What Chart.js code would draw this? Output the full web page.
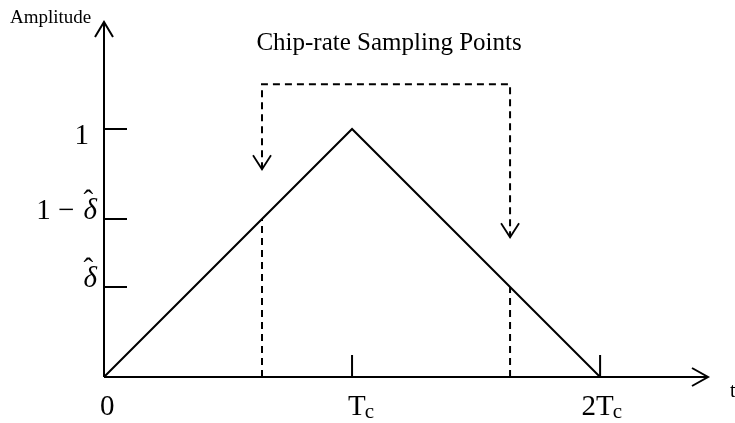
<!DOCTYPE html>
<html>
<head>
<meta charset="utf-8">
<script src="https://cdn.jsdelivr.net/npm/chart.js@4"></script>
<style>
  html, body { margin: 0; padding: 0; background: #fff; }
  #chart { display: block; }
</style>
</head>
<body>
<canvas id="chart" width="735" height="423"></canvas>
<script>
// chip pulse autocorrelation, time in units of Tc
var chipTimes = [0, 1, 2];
var chipAmplitude = [0, 1, 0];

// sampling offset and the two chip-rate samples
var deltaHat = 0.363;
var sampleTimes = [1 - deltaHat, 2 - deltaHat];
var sampleAmplitude = [1 - deltaHat, deltaHat];

var yTickValues = [1, 1 - deltaHat, deltaHat];
var yTickLabels = ['1', '1 \u2212 \u03b4\u0302', '\u03b4\u0302'];
var xTickValues = [0, 1, 2];
var xTickLabels = ['0', 'Tc', '2Tc'];

var bracketLevel = 1.18;   // height of the dashed bracket
var arrowGap = 0.2;        // arrow tip sits this far above the sample

var SERIF = '"Liberation Serif", "Times New Roman", serif';

function pts(xs, ys) {
  return xs.map(function(x, i) { return { x: x, y: ys[i] } });
}

var lineStyle = {
  borderColor: '#000',
  borderWidth: 2,
  showLine: true,
  pointRadius: 0,
  tension: 0,
  fill: false
};

var datasets = [Object.assign({ data: pts(chipTimes, chipAmplitude) }, lineStyle)];

// dashed stems from the axis up to the pulse
sampleTimes.forEach(function(t, i) {
  datasets.push(Object.assign({
    data: pts([t, t], [0, sampleAmplitude[i]]),
    borderDash: [7, 5]
  }, lineStyle));
});

// dashed bracket joining the two sampling arrows
datasets.push(Object.assign({
  data: pts(
    [sampleTimes[0], sampleTimes[0], sampleTimes[1], sampleTimes[1]],
    [sampleAmplitude[0] + arrowGap, bracketLevel, bracketLevel, sampleAmplitude[1] + arrowGap]
  ),
  borderDash: [7, 5]
}, lineStyle));

function openArrow(ctx, x, y, dir, len, half) {
  ctx.beginPath();
  if (dir === 'right') {
    ctx.moveTo(x - len, y - half); ctx.lineTo(x, y); ctx.lineTo(x - len, y + half);
  } else if (dir === 'up') {
    ctx.moveTo(x - half, y + len); ctx.lineTo(x, y); ctx.lineTo(x + half, y + len);
  } else {
    ctx.moveTo(x - half, y - len); ctx.lineTo(x, y); ctx.lineTo(x + half, y - len);
  }
  ctx.stroke();
}

// draws "δ̂": italic delta with a circumflex above it, right edge at x
function drawDeltaHat(ctx, xRight, baseline) {
  ctx.font = 'italic 29px ' + SERIF;
  ctx.textAlign = 'right';
  ctx.fillText('\u03b4', xRight, baseline);
  var w = ctx.measureText('\u03b4').width;
  ctx.font = '29px ' + SERIF;
  ctx.textAlign = 'center';
  ctx.fillText('\u02c6', xRight - w / 2 - 2, baseline - 9);
  return w;
}

var axesPlugin = {
  id: 'axesPlugin',
  afterDatasetsDraw: function(chart) {
    var ctx = chart.ctx;
    var xs = chart.scales.x, ys = chart.scales.y;
    var x0 = xs.getPixelForValue(0), y0 = ys.getPixelForValue(0);
    var xEnd = xs.getPixelForValue(xs.max), yEnd = ys.getPixelForValue(ys.max);

    ctx.save();
    ctx.strokeStyle = '#000';
    ctx.fillStyle = '#000';
    ctx.lineWidth = 2;
    ctx.setLineDash([]);

    // axes with open arrowheads
    ctx.beginPath();
    ctx.moveTo(x0, y0); ctx.lineTo(xEnd, y0);
    ctx.moveTo(x0, y0); ctx.lineTo(x0, yEnd);
    ctx.stroke();
    openArrow(ctx, xEnd, y0, 'right', 16, 9);
    openArrow(ctx, x0, yEnd, 'up', 15, 9);

    // sampling arrowheads
    ctx.lineWidth = 1.8;
    sampleTimes.forEach(function(t, i) {
      openArrow(ctx, xs.getPixelForValue(t), ys.getPixelForValue(sampleAmplitude[i] + arrowGap), 'down', 14, 9);
    });
    ctx.lineWidth = 2;

    // y ticks point into the plot
    ctx.beginPath();
    yTickValues.forEach(function(v) {
      var py = ys.getPixelForValue(v);
      ctx.moveTo(x0, py); ctx.lineTo(x0 + 23, py);
    });
    xTickValues.forEach(function(v) {
      if (v === 0) return;
      var px = xs.getPixelForValue(v);
      ctx.moveTo(px, y0); ctx.lineTo(px, y0 - 22);
    });
    ctx.stroke();

    // y tick labels
    ctx.textBaseline = 'alphabetic';
    yTickValues.forEach(function(v, i) {
      var py = ys.getPixelForValue(v);
      var label = yTickLabels[i];
      if (label.indexOf('\u03b4') === -1) {
        ctx.font = '29px ' + SERIF;
        ctx.textAlign = 'right';
        ctx.fillText(label, x0 - 15, py + 15);
        return;
      }
      var w = drawDeltaHat(ctx, x0 - 7, py);
      var prefix = label.slice(0, label.indexOf('\u03b4'));
      if (prefix) {
        ctx.font = '29px ' + SERIF;
        ctx.textAlign = 'right';
        ctx.fillText(prefix, x0 - 7 - w - 2, py);
      }
    });

    // x tick labels, "T" with subscript "c"
    xTickValues.forEach(function(v, i) {
      var px = xs.getPixelForValue(v);
      var label = xTickLabels[i];
      var base = y0 + 38;
      ctx.textAlign = 'left';
      ctx.font = '29px ' + SERIF;
      var tPos = label.indexOf('T');
      if (tPos === -1) {
        ctx.fillText(label, px - 4, base);
        return;
      }
      var prefix = label.slice(0, tPos);
      var pw = ctx.measureText(prefix).width;
      ctx.fillText(prefix + 'T', px - 4 - pw, base);
      var tw = ctx.measureText('T').width;
      ctx.font = '21px ' + SERIF;
      ctx.fillText(label.slice(tPos + 1), px - 4 + tw - 1, base + 3);
    });

    // axis names and caption
    ctx.font = '19px ' + SERIF;
    ctx.textAlign = 'left';
    ctx.fillText('Amplitude', 10, 23);
    ctx.font = '20px ' + SERIF;
    ctx.fillText('t', 730, 397);

    ctx.font = '25px ' + SERIF;
    ctx.textAlign = 'center';
    var mid = (xs.getPixelForValue(sampleTimes[0]) + xs.getPixelForValue(sampleTimes[1])) / 2;
    ctx.fillText('Chip-rate Sampling Points', mid + 3, 50);

    ctx.restore();
  }
};

var chart = new Chart(document.getElementById('chart').getContext('2d'), {
  type: 'scatter',
  data: { datasets: datasets },
  options: {
    responsive: false,
    animation: false,
    layout: { padding: { left: 104, right: 27, top: 22, bottom: 46 } },
    plugins: { legend: { display: false }, tooltip: { enabled: false } },
    scales: {
      x: { type: 'linear', min: 0, max: 2.435, display: false },
      y: { type: 'linear', min: 0, max: 1.431, display: false }
    }
  },
  plugins: [axesPlugin]
});
</script>
</body>
</html>
